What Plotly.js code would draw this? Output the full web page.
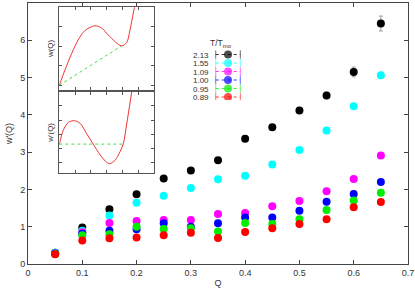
<!DOCTYPE html>
<html><head><meta charset="utf-8">
<script src="https://cdn.plot.ly/plotly-3.0.1.min.js"></script>
<style>html,body{margin:0;padding:0;background:#fff}#chart{width:415px;height:288px}</style>
</head><body><div id="chart"></div>
<script>
// ---- main data ----
const Q = [0.05,0.10,0.15,0.20,0.25,0.30,0.35,0.40,0.45,0.50,0.55,0.60,0.65];
const seriesLabels = ['2.13','1.55','1.09','1.00','0.95','0.89'];
const seriesColors = ['#000000','#00ffff','#ff00ff','#0000ff','#00ee00','#ff0000'];
const w_213 = [0.30,0.98,1.47,1.87,2.29,2.51,2.78,3.36,3.67,4.12,4.52,5.15,6.45];
const w_155 = [0.30,0.89,1.30,1.64,1.83,2.04,2.27,2.37,2.67,3.06,3.58,4.23,5.06];
const w_109 = [0.28,0.85,1.10,1.15,1.18,1.18,1.34,1.37,1.55,1.69,1.95,2.28,2.91];
const w_100 = [0.28,0.81,0.89,0.93,1.09,1.00,1.09,1.25,1.25,1.43,1.67,1.88,2.20];
const w_095 = [0.27,0.77,0.80,1.00,0.94,0.96,0.87,1.10,1.07,1.20,1.45,1.70,1.91];
const w_089 = [0.26,0.63,0.69,0.71,0.77,0.84,0.70,0.86,0.96,1.07,1.20,1.52,1.66];
const err_213 = [0.02,0.03,0.03,0.04,0.04,0.05,0.05,0.06,0.07,0.08,0.09,0.13,0.20];
const err_155 = [0.02,0.02,0.03,0.03,0.03,0.04,0.04,0.04,0.05,0.05,0.06,0.07,0.08];
const err_109 = [0.02,0.02,0.02,0.02,0.03,0.03,0.03,0.03,0.03,0.04,0.04,0.05,0.06];
const err_100 = [0.02,0.02,0.02,0.02,0.02,0.03,0.03,0.03,0.03,0.03,0.04,0.04,0.05];
const err_095 = [0.02,0.02,0.02,0.02,0.02,0.02,0.03,0.03,0.03,0.03,0.03,0.04,0.04];
const err_089 = [0.02,0.02,0.02,0.02,0.02,0.02,0.02,0.03,0.03,0.03,0.03,0.03,0.04];
const seriesValues = [w_213,w_155,w_109,w_100,w_095,w_089];
const seriesErrors = [err_213,err_155,err_109,err_100,err_095,err_089];

// ---- inset data (schematic curves) ----
const inset1X = [0,0.36,0.79,1.2,1.63,2.26,2.69,3.1,3.53,3.95,4.27,4.48,4.69,4.8];
const inset1Y = [0,0.78,1.64,2.33,2.81,3.05,2.93,2.58,2.24,2.02,2.19,2.84,3.71,4.13];
const inset1LineX = [0,3.95];
const inset1LineY = [0,2.02];
const inset2X = [0,0.25,0.57,0.95,1.31,1.74,2.15,2.58,3.0,3.21,3.53,3.85,4.06,4.27,4.48,4.59];
const inset2Y = [1.27,2.27,2.83,2.95,2.77,2.03,1.31,0.56,0.03,-0.06,0.17,0.78,1.35,2.72,4.2,5.0];
const inset2LineX = [0,4.06];
const inset2LineY = [1.31,1.31];

const FONT = 'Liberation Sans, Arial, sans-serif';
const traces = [];

// main series
seriesValues.forEach((vals,i)=>{
  traces.push({
    x: Q, y: vals, type:'scatter', mode:'markers', showlegend:false,
    marker:{color:seriesColors[i], size:8, line:{width:0}},
    error_y:{type:'data', array:seriesErrors[i], visible:true,
      color: i===0 ? 'rgba(0,0,0,0.45)' : seriesColors[i], thickness:0.8, width:2},
    xaxis:'x', yaxis:'y'
  });
});

// custom legend (hidden axes x4/y4)
seriesLabels.forEach((lab,i)=>{
  traces.push({
    x:[-1,0,1], y:[i,i,i], type:'scatter', mode:'lines+markers', showlegend:false,
    line:{color:seriesColors[i], width:0.8, dash:'dot'},
    marker:{color:seriesColors[i], size:[6,8,6], symbol:['line-ns-open','circle','line-ns-open'],
      line:{color:seriesColors[i], width:[0.8,0,0.8]}},
    hoverinfo:'skip', xaxis:'x4', yaxis:'y4'
  });
});

// insets
traces.push({x:inset1LineX, y:inset1LineY, type:'scatter', mode:'lines', showlegend:false,
  line:{color:'#44dd44', width:1, dash:'dot'}, xaxis:'x2', yaxis:'y2'});
traces.push({x:inset1X, y:inset1Y, type:'scatter', mode:'lines', showlegend:false,
  line:{color:'#ee3333', width:1, shape:'spline', smoothing:0.9}, xaxis:'x2', yaxis:'y2'});
traces.push({x:inset2LineX, y:inset2LineY, type:'scatter', mode:'lines', showlegend:false,
  line:{color:'#44dd44', width:1, dash:'dot'}, xaxis:'x3', yaxis:'y3'});
traces.push({x:inset2X, y:inset2Y, type:'scatter', mode:'lines', showlegend:false,
  line:{color:'#ee3333', width:1, shape:'spline', smoothing:0.9}, xaxis:'x3', yaxis:'y3'});

// pixel -> paper helpers (plot area 28..408 x, 3..264 y)
const px = v => (v-28)/380;
const py = v => (264-v)/261;

const insetAxis = {showline:true, mirror:'ticks', ticks:'inside', ticklen:3, tickcolor:'#555',
  linecolor:'#555', linewidth:1, showgrid:false, zeroline:false, showticklabels:false, fixedrange:true};

const layout = {
  width:415, height:288,
  margin:{l:28, r:7, t:3, b:24, pad:0},
  paper_bgcolor:'#fff', plot_bgcolor:'rgba(0,0,0,0)',
  font:{family:FONT, size:9, color:'#333'},
  showlegend:false,
  xaxis:{domain:[0,1], range:[0,0.7], dtick:0.1, tick0:0, ticks:'inside', ticklen:4, mirror:'ticks',
    showline:true, linecolor:'#444', linewidth:1, tickcolor:'#444', showgrid:false, zeroline:false,
    tickfont:{size:9, color:'#333'}, title:{text:'Q', font:{size:9,color:'#333'}, standoff:4}},
  yaxis:{domain:[0,1], range:[0,7], dtick:1, ticks:'inside', ticklen:4, mirror:'ticks',
    showline:true, linecolor:'#444', linewidth:1, tickcolor:'#444', showgrid:false, zeroline:false,
    tickfont:{size:9, color:'#333'}, title:{text:"w'(Q)", font:{size:9,color:'#333'}, standoff:6}},
  xaxis2:Object.assign({}, insetAxis, {domain:[px(59.3), px(154)], range:[0,6], dtick:1, anchor:'y2'}),
  yaxis2:Object.assign({}, insetAxis, {domain:[py(89.5), py(7.3)], range:[-0.22,4.0], tickvals:[0,1,2,3], anchor:'x2',
    title:{text:'w(Q)', font:{size:8,color:'#333'}, standoff:3}}),
  xaxis3:Object.assign({}, insetAxis, {domain:[px(59.3), px(154)], range:[0,6], dtick:1, anchor:'y3'}),
  yaxis3:Object.assign({}, insetAxis, {domain:[py(173.3), py(91.5)], range:[-0.74,5.0], tickvals:[0,1,2,3,4], anchor:'x3',
    title:{text:"w'(Q)", font:{size:8,color:'#333'}, standoff:3}}),
  xaxis4:{domain:[px(190), px(245)], range:[-3.09,1.38], visible:false, fixedrange:true, anchor:'y4'},
  yaxis4:{domain:[py(100), py(38)], range:[5.35,-1.94], visible:false, fixedrange:true, anchor:'x4'},
  annotations: seriesLabels.map((lab,i)=>({
    text:lab, x:-1.35, y:i, xref:'x4', yref:'y4', xanchor:'right', yanchor:'middle',
    showarrow:false, height:8, font:{size:8, color:'#333'}
  })).concat([{
    text:'T/T<sub>mo</sub>', x:-0.55, y:-1.35, xref:'x4', yref:'y4', xanchor:'center', yanchor:'middle',
    showarrow:false, font:{size:8.5, color:'#333'}
  }])
};

Plotly.newPlot('chart', traces, layout, {staticPlot:true, displayModeBar:false});
</script>
</body></html>
